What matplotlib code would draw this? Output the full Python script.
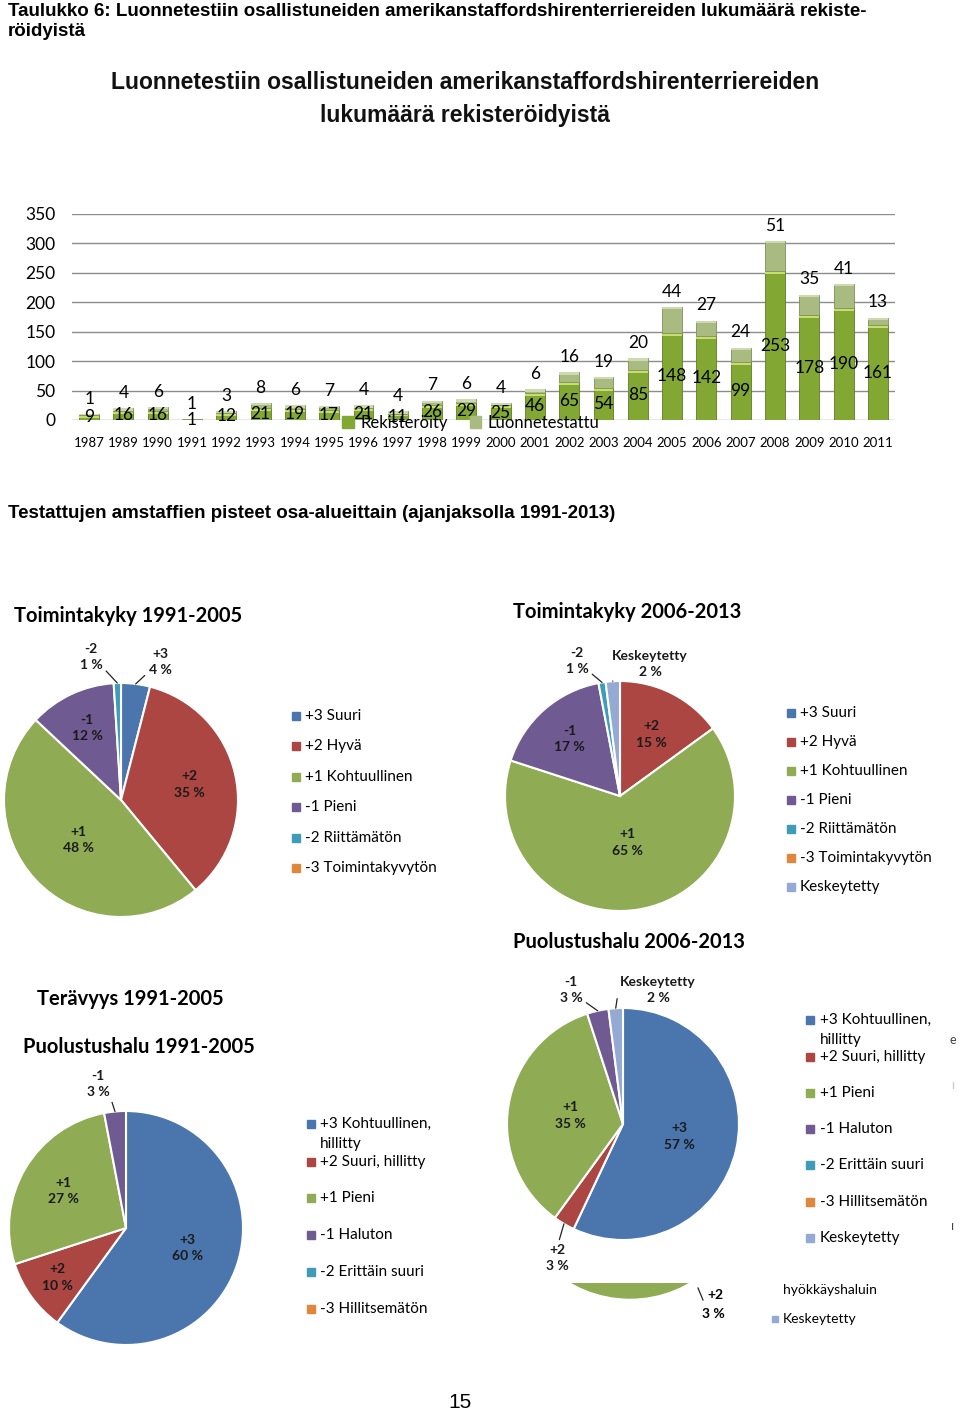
import numpy as np
import matplotlib
matplotlib.use("Agg")
import matplotlib.pyplot as plt
from matplotlib.patches import Rectangle, Circle

W, H = 960, 1413

# --- bar chart data ---
years = ["1987", "1989", "1990", "1991", "1992", "1993", "1994", "1995", "1996",
         "1997", "1998", "1999", "2000", "2001", "2002", "2003", "2004", "2005",
         "2006", "2007", "2008", "2009", "2010", "2011"]
registered = [9, 16, 16, 1, 12, 21, 19, 17, 21, 11, 26, 29, 25, 46, 65, 54, 85,
              148, 142, 99, 253, 178, 190, 161]
tested = [1, 4, 6, 1, 3, 8, 6, 7, 4, 4, 7, 6, 4, 6, 16, 19, 20, 44, 27, 24, 51,
          35, 41, 13]

# --- pie data ---
tk_names = ["+3 Suuri", "+2 Hyvä", "+1 Kohtuullinen", "-1 Pieni",
            "-2 Riittämätön", "-3 Toimintakyvytön", "Keskeytetty"]
ph_names = ["+3 Kohtuullinen,\nhillitty", "+2 Suuri, hillitty", "+1 Pieni",
            "-1 Haluton", "-2 Erittäin suuri", "-3 Hillitsemätön", "Keskeytetty"]
short = ["+3", "+2", "+1", "-1", "-2", "-3", "Keskeytetty"]
tk_9105 = [4, 35, 48, 12, 1, 0]
tk_0613 = [0, 15, 65, 17, 1, 0, 2]
ph_9105 = [60, 10, 27, 3, 0, 0]
ph_0613 = [57, 3, 35, 3, 0, 0, 2]

pie_colors = ["#4a76ad", "#ab4643", "#8fab54", "#6f5a91", "#3f9cb8", "#e0873e", "#94aad4"]
c_reg = "#82a833"
c_test = "#a9bb80"

plt.rcParams["font.family"] = ["Lato", "DejaVu Sans"]
arial = ["Liberation Sans", "DejaVu Sans"]

fig = plt.figure(figsize=(W / 100, H / 100), dpi=100)


def px_rect(x, y, w, h):
    return [x / W, 1 - (y + h) / H, w / W, h / H]


# ---------------- bar chart ----------------
axb = fig.add_axes(px_rect(72, 214, 823, 206))
x = np.arange(len(years))
reg = np.array(registered)
tst = np.array(tested)
axb.bar(x, reg, width=0.58, color=c_reg, edgecolor="#5d7d22", linewidth=0.6, zorder=3)
axb.bar(x, np.minimum(reg, 5), bottom=reg - np.minimum(reg, 5), width=0.58,
        color="#c6de6c", linewidth=0, zorder=3)
axb.bar(x, tst, bottom=reg, width=0.58, color=c_test, edgecolor="#7f8f5c",
        linewidth=0.6, zorder=3)
axb.bar(x, np.minimum(tst, 4), bottom=reg + tst - np.minimum(tst, 4), width=0.58,
        color="#cdd9b0", linewidth=0, zorder=3)
for i in range(len(years)):
    axb.text(x[i], reg[i] / 2, str(reg[i]), ha="center", va="center", fontsize=12.5, zorder=5)
    axb.annotate(str(tst[i]), (x[i], reg[i] + tst[i]), xytext=(0, 11),
                 textcoords="offset points", ha="center", va="center", fontsize=12.5)
axb.set_xlim(-0.5, len(years) - 0.5)
axb.set_ylim(0, 350)
axb.set_yticks(range(0, 351, 50))
axb.set_xticks(x)
axb.set_xticklabels(years, fontsize=9.5)
axb.tick_params(axis="y", length=0, pad=12, labelsize=12.5)
axb.tick_params(axis="x", length=0, pad=12)
axb.yaxis.grid(True, color="#8c8c8c", linewidth=1, zorder=0)
for s in axb.spines.values():
    s.set_visible(False)
handles = [Rectangle((0, 0), 1, 1, color=c_reg), Rectangle((0, 0), 1, 1, color=c_test)]
axb.legend(handles, ["Rekisteröity", "Luonnetestattu"], ncol=2, loc="center",
           bbox_to_anchor=(471 / W, 1 - 423 / H), bbox_transform=fig.transFigure,
           frameon=False, fontsize=12, handlelength=0.7, handleheight=0.7,
           handletextpad=0.4, columnspacing=1.3, borderpad=0)

# ---------------- overlay for free text ----------------
ov = fig.add_axes([0, 0, 1, 1], zorder=10)
ov.set_xlim(0, W)
ov.set_ylim(H, 0)
ov.axis("off")
ov.patch.set_alpha(0)

ov.text(8, 3, "Taulukko 6: Luonnetestiin osallistuneiden amerikanstaffordshirenterriereiden lukumäärä rekiste-\nröidyistä",
        family=arial, fontweight="bold", fontsize=13.5, va="top", ha="left", linespacing=1.2)
ov.text(465, 99, "Luonnetestiin osallistuneiden amerikanstaffordshirenterriereiden\nlukumäärä rekisteröidyistä",
        family=arial, fontweight="bold", fontsize=16.5, ha="center", va="center",
        linespacing=1.55, color="#111111")
ov.text(8, 514, "Testattujen amstaffien pisteet osa-alueittain (ajanjaksolla 1991-2013)",
        family=arial, fontweight="bold", fontsize=13.5, ha="left", va="center")

for tx, ty, t in [(14, 616, "Toimintakyky 1991-2005"), (513, 612, "Toimintakyky 2006-2013"),
                  (513, 942, "Puolustushalu 2006-2013"), (37, 999, "Terävyys 1991-2005"),
                  (23, 1047, "Puolustushalu 1991-2005")]:
    ov.text(tx, ty, t, fontweight="bold", fontsize=14.5, ha="left", va="center")


def draw_pie(cx, cy, r, vals, inside, outside):
    ax = fig.add_axes(px_rect(cx - r, cy - r, 2 * r, 2 * r))
    idx = [i for i, v in enumerate(vals) if v > 0]
    ax.pie([vals[i] for i in idx], colors=[pie_colors[i] for i in idx], startangle=90,
           counterclock=False, wedgeprops=dict(edgecolor="white", linewidth=1.5))
    ax.set_xlim(-1, 1)
    ax.set_ylim(-1, 1)
    cum = np.concatenate([[0], np.cumsum(vals)])
    tot = float(sum(vals))
    for i, v in enumerate(vals):
        if v == 0:
            continue
        ang = np.deg2rad(90 - 360 * (cum[i] + v / 2) / tot)
        lab = f"{short[i]}\n{v} %"
        if i in inside:
            rr = inside[i]
            ax.text(rr * np.cos(ang), rr * np.sin(ang), lab, ha="center", va="center",
                    fontsize=10, fontweight="bold", color="#1a1a1a", linespacing=1.45)
        elif i in outside:
            tx, ty, rel = outside[i]
            ax.annotate(lab, (np.cos(ang), np.sin(ang)), xytext=(tx, ty),
                        textcoords=ov.transData, ha="center", va="center", fontsize=10,
                        fontweight="bold", color="#1a1a1a", linespacing=1.45,
                        arrowprops=dict(arrowstyle="-", color="#222222", lw=0.9,
                                        relpos=rel, shrinkA=1, shrinkB=0))
    return ax


def draw_legend(xm, xt, ys, names, fs=11):
    for k, (yy, name) in enumerate(zip(ys, names)):
        ov.add_patch(Rectangle((xm - 4, yy - 4), 8, 8, color=pie_colors[k]))
        for j, line in enumerate(name.split("\n")):
            ov.text(xt, yy + j * 20, line, fontsize=fs, ha="left", va="center")


draw_pie(121, 800, 117, tk_9105, {1: 0.6, 2: 0.5, 3: 0.68},
         {4: (91, 657, (1, 0.15)), 0: (160, 662, (0, 0.15))})
draw_legend(296, 305, [716, 746, 777, 807, 838, 868], tk_names[:6])

draw_pie(620, 796, 115, tk_0613, {1: 0.6, 2: 0.41, 3: 0.66},
         {4: (577, 661, (1, 0.15)), 6: (650, 664, (0, 0.9))})
draw_legend(791, 800, [713, 742, 771, 800, 829, 858, 887], tk_names)

draw_pie(126, 1228, 117, ph_9105, {0: 0.55, 1: 0.72, 2: 0.62},
         {3: (98, 1084, (1, 0.15))})
draw_legend(311, 320, [1124, 1162, 1198, 1235, 1272, 1309], ph_names[:6])

draw_pie(623, 1124, 116, ph_0613, {0: 0.5, 2: 0.46},
         {3: (571, 990, (1, 0.15)), 1: (557, 1258, (0.55, 1)), 6: (658, 990, (0, 0.9))})
draw_legend(810, 820, [1020, 1057, 1093, 1129, 1165, 1202, 1238], ph_names)

# leftover fragment of a hidden pie below the last chart
frag = Circle((630, 1180), 118, color=pie_colors[2], zorder=1)
ov.add_patch(frag)
clip = Rectangle((500, 1283), 260, 20, transform=ov.transData)
frag.set_clip_path(clip)
ov.plot([698, 703], [1288, 1300], color="#222222", lw=0.9)
ov.text(715, 1295, "+2", fontsize=10, fontweight="bold", ha="center", va="center")
ov.text(713, 1314, "3 %", fontsize=10, fontweight="bold", ha="center", va="center")
ov.text(783, 1290, "hyökkäyshaluin", fontsize=10, ha="left", va="center")
ov.add_patch(Rectangle((772, 1316), 6, 6, color=pie_colors[6]))
ov.text(783, 1319, "Keskeytetty", fontsize=10, ha="left", va="center")
ov.text(953, 1040, "e", fontsize=9, ha="center", va="center", color="#444444")
ov.plot([953, 953], [1082, 1088], color="#cccccc", lw=1)
ov.text(953, 1226, "ı", fontsize=9, ha="center", va="center", color="#444444")

ov.text(460, 1403, "15", family=arial, fontsize=15, ha="center", va="center")

fig.savefig("out.png", dpi=100, facecolor="white")
